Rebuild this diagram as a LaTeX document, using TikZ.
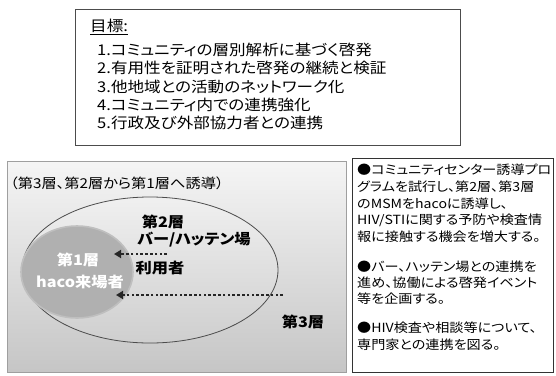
\documentclass[tikz,border=0pt]{standalone}
\usepackage{fontspec}
\setmainfont{Noto Sans CJK JP}[RawFeature=+palt, FakeStretch=1.12]
\usetikzlibrary{arrows.meta,shapes.geometric}
\begin{document}
\begin{tikzpicture}[x=1pt,y=-1pt,
  boxline/.style={draw=black!70, line width=0.7pt, inner sep=0pt, anchor=north west},
  goaltext/.style={inner sep=0pt, anchor=west, font=\fontsize{14.8}{17}\selectfont},
  notetext/.style={inner sep=0pt, anchor=west, font=\fontsize{12.6}{15}\selectfont},
  layer/.style={inner sep=0pt, font=\bfseries\fontsize{14.5}{16}\selectfont},
  dotarrow/.style={line width=2.6pt, dash pattern=on 2.6pt off 2.2pt, black!85,
    -{Triangle[length=7pt,width=8pt]}},
]
\useasboundingbox (0,0) rectangle (556,375);
% top goals box
\node[boxline, minimum width=385pt, minimum height=136pt] (goal) at (75,9) {};
\node[goaltext] (gt) at (90,27) {\underline{目標:}};
\node[goaltext] (g1) at (97,50) {1.コミュニティの層別解析に基づく啓発};
\node[goaltext] (g2) at (97,68.3) {2.有用性を証明された啓発の継続と検証};
\node[goaltext] (g3) at (97,86.6) {3.他地域との活動のネットワーク化};
\node[goaltext] (g4) at (97,104.9) {4.コミュニティ内での連携強化};
\node[goaltext] (g5) at (97,123.2) {5.行政及び外部協力者との連携};
% left scene box
\node[boxline, draw=gray!75, minimum width=339pt, minimum height=211pt,
  top color=gray!8, bottom color=gray!45] (scene) at (7,161) {};
\node[inner sep=0pt, anchor=west, font=\fontsize{13.6}{16}\selectfont] (title) at (10,183) {（第3層、第2層から第1層へ誘導）};
\node[ellipse, draw=black!70, line width=0.8pt, top color=gray!12, bottom color=gray!38,
  minimum width=256pt, minimum height=146pt, inner sep=0pt] (l2) at (150,270) {};
\node[ellipse, draw=gray!50, line width=1.6pt, fill=gray!62,
  minimum width=112pt, minimum height=92pt, inner sep=0pt] (l1) at (77,272) {};
\node[layer] (t2a) at (163,222) {第2層};
\node[layer] (t2b) at (194,240) {バー/ハッテン場};
\node[layer] (t2c) at (160,268) {利用者};
\node[layer, text=white] (t1a) at (78,260) {第1層};
\node[layer, text=white] (t1b) at (80,282) {haco来場者};
\node[layer] (t3) at (303,322) {第3層};
\coordinate (a1s) at (167,254);
\coordinate (a1e) at (114,254);
\coordinate (a2s) at (283,295);
\coordinate (a2e) at (116,295);
\draw[dotarrow] (a1s) -- (a1e);
\draw[dotarrow] (a2s) -- (a2e);
% right notes box
\node[boxline, draw=black!80, line width=0.8pt, minimum width=201pt, minimum height=214pt] (notes) at (352,158) {};
\node[notetext] (n1) at (357,170) {●コミュニティセンター誘導プロ};
\node[notetext] (n2) at (357,186.8) {グラムを試行し、第2層、第3層};
\node[notetext] (n3) at (357,203.6) {のMSMをhacoに誘導し、};
\node[notetext] (n4) at (357,220.4) {HIV/STIに関する予防や検査情};
\node[notetext] (n5) at (357,237.2) {報に接触する機会を増大する。};
\node[notetext] (n6) at (357,267) {●バー、ハッテン場との連携を};
\node[notetext] (n7) at (357,283) {進め、協働による啓発イベント};
\node[notetext] (n8) at (357,299) {等を企画する。};
\node[notetext] (n9) at (357,328) {●HIV検査や相談等について、};
\node[notetext] (n10) at (357,345) {専門家との連携を図る。};
\end{tikzpicture}
\end{document}
